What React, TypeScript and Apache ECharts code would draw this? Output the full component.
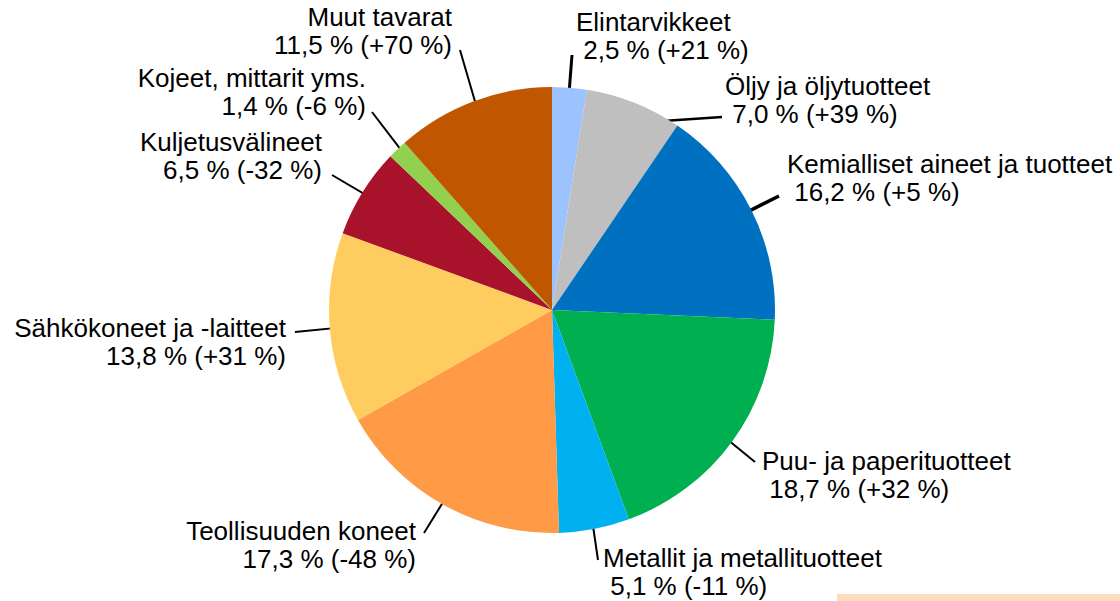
import React, { useEffect, useRef } from "react";
import * as echarts from "echarts";

const categories = [
  "Elintarvikkeet",
  "Öljy ja öljytuotteet",
  "Kemialliset aineet ja tuotteet",
  "Puu- ja paperituotteet",
  "Metallit ja metallituotteet",
  "Teollisuuden koneet",
  "Sähkökoneet ja -laitteet",
  "Kuljetusvälineet",
  "Kojeet, mittarit yms.",
  "Muut tavarat",
];
const shares = [2.5, 7.0, 16.2, 18.7, 5.1, 17.3, 13.8, 6.5, 1.4, 11.5];
const changes = [21, 39, 5, 32, -11, -48, 31, -32, -6, 70];
const colors = [
  "#9DC3FF",
  "#BFBFBF",
  "#0070C0",
  "#00B050",
  "#00B0F0",
  "#FF9A46",
  "#FFCC5F",
  "#A8122B",
  "#92D050",
  "#C05600",
];

// layout of labels (text anchor + outer end of leader line)
const CX = 552;
const CY = 310;
const R = 223;
const anchors = [
  { x: 576, y: 36, align: "left", end: [572, 55], lw: 3 },
  { x: 725, y: 100, align: "left", end: [722, 117], lw: 2.5 },
  { x: 787, y: 178, align: "left", end: [779, 196], lw: 3.5 },
  { x: 762, y: 475, align: "left", end: [755, 462], lw: 2 },
  { x: 603, y: 572, align: "left", end: [598, 560], lw: 2 },
  { x: 416, y: 545, align: "right", end: [424, 533], lw: 2 },
  { x: 286, y: 342, align: "right", end: [295, 332], lw: 2 },
  { x: 322, y: 156, align: "right", end: [332, 175], lw: 2 },
  { x: 366, y: 92, align: "right", end: [372, 112], lw: 2 },
  { x: 452, y: 31, align: "right", end: [460, 50], lw: 2 },
];

function fmt(v: number) {
  return v.toFixed(1).replace(".", ",");
}

export default function App() {
  const ref = useRef<HTMLDivElement>(null);
  useEffect(() => {
    if (!ref.current) return;
    const chart = echarts.init(ref.current, null, { renderer: "svg" });
    const total = shares.reduce((a, b) => a + b, 0);
    const mids: number[] = [];
    let cum = 0;
    shares.forEach((v) => {
      const mid = 90 - ((cum + v / 2) / total) * 360;
      mids.push((mid * Math.PI) / 180);
      cum += v;
    });
    const data = categories.map((name, i) => ({
      name,
      value: shares[i],
      itemStyle: { color: colors[i] },
      labelLine: { lineStyle: { width: anchors[i].lw } },
    }));
    chart.setOption({
      animation: false,
      backgroundColor: "#ffffff",
      graphic: [
        {
          type: "rect",
          shape: { x: 837, y: 594, width: 283, height: 7 },
          style: { fill: "#FCDBBF" },
          silent: true,
        },
      ],
      series: [
        {
          type: "pie",
          center: [CX, CY],
          radius: R,
          startAngle: 90,
          clockwise: true,
          avoidLabelOverlap: false,
          itemStyle: { borderWidth: 0 },
          label: {
            show: true,
            position: "outside",
            color: "#000000",
            fontFamily: "Liberation Sans, Arial, sans-serif",
            fontSize: 26,
            lineHeight: 28,
            formatter: (p: any) => {
              const i = p.dataIndex;
              const c = changes[i];
              const pre = anchors[i].align === "left" ? "\u00a0" : "";
              return `${categories[i]}\n${pre}${fmt(shares[i])} % (${c > 0 ? "+" : ""}${c} %)`;
            },
          },
          labelLine: {
            show: true,
            lineStyle: { color: "#000000", width: 2 },
          },
          labelLayout: (params: any) => {
            const i = params.dataIndex;
            const a = anchors[i];
            const inner = [
              CX + 0.9 * R * Math.cos(mids[i]),
              CY - 0.9 * R * Math.sin(mids[i]),
            ];
            return {
              x: a.x,
              y: a.y,
              align: a.align,
              verticalAlign: "middle",
              labelLinePoints: [inner, a.end, a.end],
            };
          },
          data,
        },
      ],
    });
    return () => chart.dispose();
  }, []);
  return (
    <div
      ref={ref}
      style={{ position: "fixed", left: 0, top: 0, width: 1120, height: 601 }}
    />
  );
}
